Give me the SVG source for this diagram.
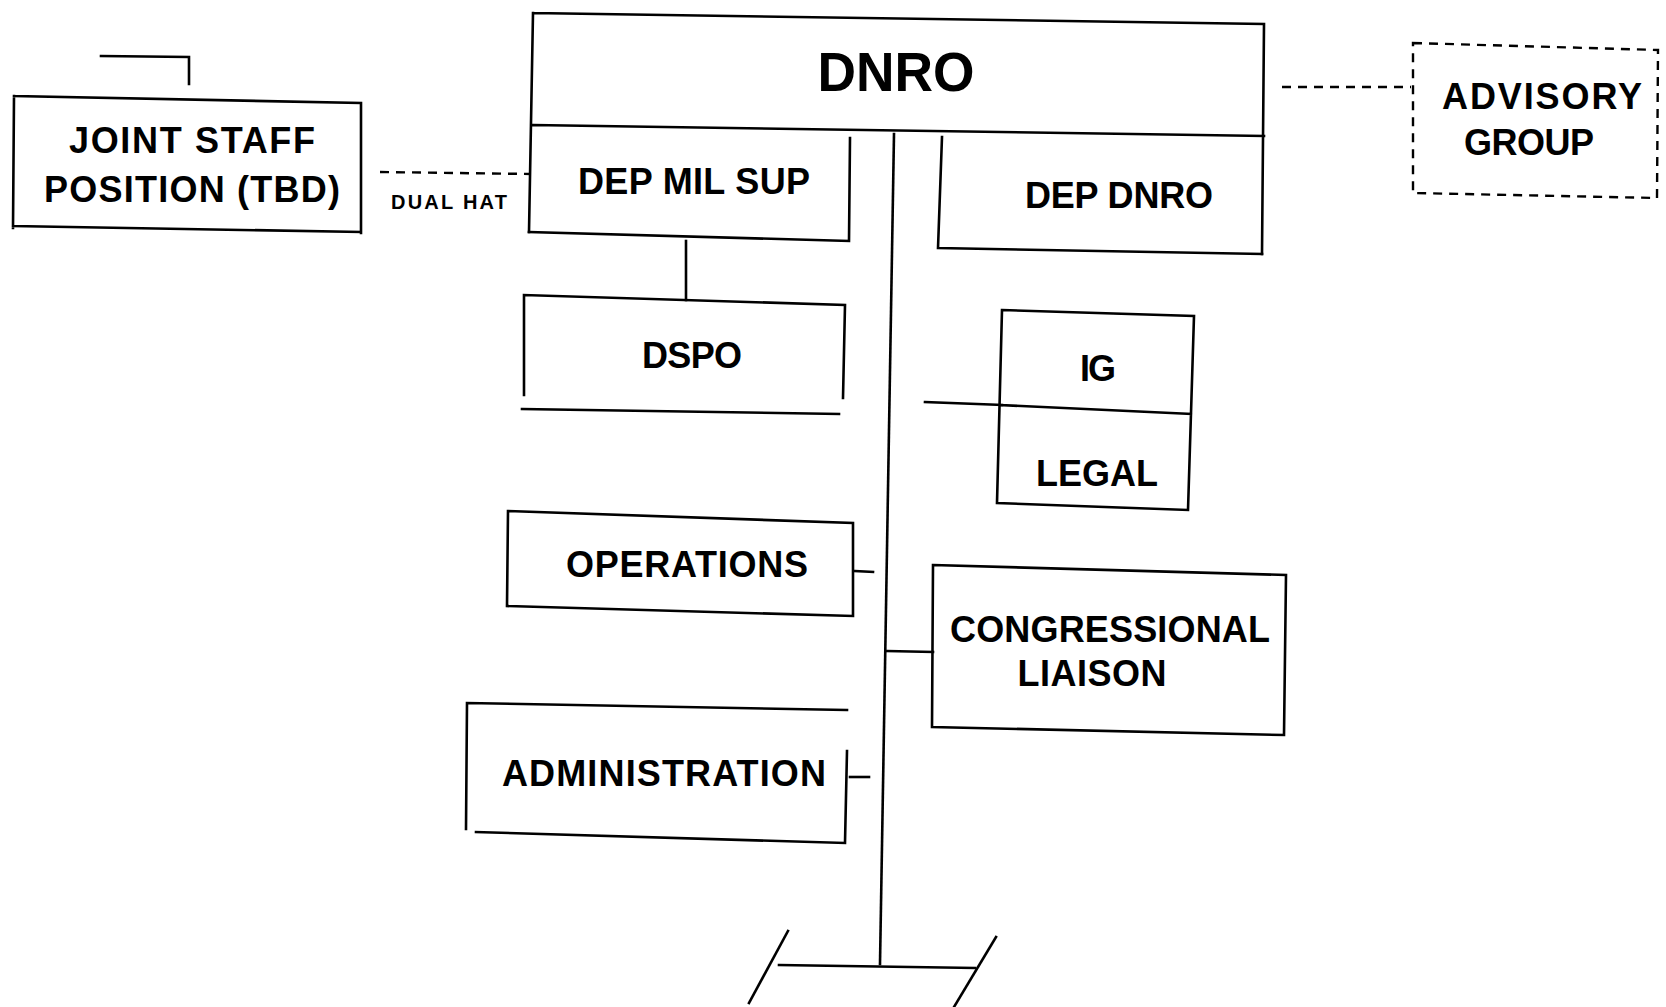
<svg xmlns="http://www.w3.org/2000/svg" width="1666" height="1007" viewBox="0 0 1666 1007">
<style>
  .ln { fill: none; stroke: #000; stroke-width: 2.6; stroke-linecap: square; }
  .dash { fill: none; stroke: #000; stroke-width: 2.4; stroke-dasharray: 9 7; }
  .t { font-family: "Liberation Sans", Arial, sans-serif; font-weight: bold; font-size: 36px; fill: #000; text-anchor: middle; }
  .big { font-size: 56px; }
  .small { font-size: 20px; }
</style>
<rect width="1666" height="1007" fill="#fff"/>

<g id="connectors">
  <path class="ln" d="M101,56 L189,57 L189,84"/>
  <path class="dash" d="M380,172 L531,174"/>
  <path class="dash" d="M1282,87 L1411,87"/>
  <path class="ln" d="M894,134 L880,964"/>
  <path class="ln" d="M686,241 L686,300"/>
  <path class="ln" d="M925,402 L1002,405"/>
  <path class="ln" d="M855,571 L873,572"/>
  <path class="ln" d="M887,651 L933,652"/>
  <path class="ln" d="M850,777 L869,777"/>
  <path class="ln" d="M779,965 L975,968"/>
  <path class="ln" d="M788,931 L749,1003"/>
  <path class="ln" d="M996,937 L954,1007"/>
</g>

<g id="joint-staff">
  <path class="ln" d="M14,96 L361,103 L361,233 M14,96 L13,228 M13,226 L361,232"/>
  <text class="t" x="192" y="153" textLength="246" lengthAdjust="spacing">JOINT STAFF</text>
  <text class="t" x="192" y="202" textLength="296" lengthAdjust="spacing">POSITION (TBD)</text>
  <text class="t small" x="449" y="209" textLength="116" lengthAdjust="spacing">DUAL HAT</text>
</g>

<g id="dnro">
  <path class="ln" d="M533,13 L1264,24 L1262,254 M533,13 L529,232 M533,125 L1264,136"/>
  <text class="t big" x="896" y="91" textLength="157" lengthAdjust="spacingAndGlyphs">DNRO</text>
</g>

<g id="dep-mil-sup">
  <path class="ln" d="M850,138 L849,241 M529,232 L849,241"/>
  <text class="t" x="694" y="194" textLength="232" lengthAdjust="spacing">DEP MIL SUP</text>
</g>

<g id="dep-dnro">
  <path class="ln" d="M942,137 L938,248 L1262,254"/>
  <text class="t" x="1119" y="208" textLength="188" lengthAdjust="spacing">DEP DNRO</text>
</g>

<g id="advisory-group">
  <path class="dash" d="M1413,43 L1658,50 L1657,198 L1413,193 Z"/>
  <text class="t" x="1542" y="109" textLength="200" lengthAdjust="spacing">ADVISORY</text>
  <text class="t" x="1529" y="155" textLength="130" lengthAdjust="spacing">GROUP</text>
</g>

<g id="dspo">
  <path class="ln" d="M524,395 L524,295 L845,305 L843,398 M522,409 L839,414"/>
  <text class="t" x="692" y="368" textLength="100" lengthAdjust="spacing">DSPO</text>
</g>

<g id="ig-legal">
  <path class="ln" d="M1002,310 L1194,316 L1188,510 L997,503 Z M1000,405 L1191,414"/>
  <text class="t" x="1098" y="381" textLength="36" lengthAdjust="spacing">IG</text>
  <text class="t" x="1097" y="486" textLength="122" lengthAdjust="spacing">LEGAL</text>
</g>

<g id="operations">
  <path class="ln" d="M508,511 L853,523 L853,616 L507,606 Z"/>
  <text class="t" x="687" y="577" textLength="242" lengthAdjust="spacing">OPERATIONS</text>
</g>

<g id="congressional-liaison">
  <path class="ln" d="M933,565 L1286,575 L1284,735 L932,727 Z"/>
  <text class="t" x="1110" y="642" textLength="320" lengthAdjust="spacing">CONGRESSIONAL</text>
  <text class="t" x="1092" y="686" textLength="149" lengthAdjust="spacing">LIAISON</text>
</g>

<g id="administration">
  <path class="ln" d="M466,829 L467,703 L847,710 M847,751 L845,843 L476,832"/>
  <text class="t" x="664" y="786" textLength="324" lengthAdjust="spacing">ADMINISTRATION</text>
</g>
</svg>
